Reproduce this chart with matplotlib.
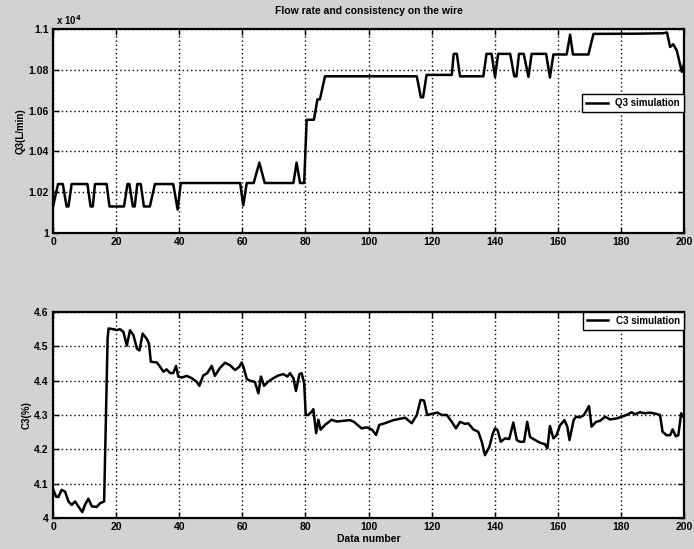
import numpy as np
import matplotlib
matplotlib.use('Agg')
import matplotlib.pyplot as plt

# Q3 flow rate (x 10^4 L/min), vertices
q3_x = [0, 1.6, 3.1, 4.3, 4.9, 5.9, 10.9, 11.9, 12.6, 13.3, 17.0, 17.9, 22.5, 23.6,
        24.2, 25.3, 25.9, 26.7, 27.8, 28.8, 30.7, 32.3, 38.1, 39.5, 40.5, 59.3,
        60.3, 61.4, 63.6, 65.4, 67.1, 76.2, 77.2, 78.3, 79.6, 80.4, 82.7, 83.8,
        84.6, 86.2, 115.3, 116.6, 117.3, 118.4, 126.4, 127.0, 128.0, 129.0, 136.4,
        137.4, 139.0, 140.1, 141.1, 144.9, 146.2, 146.9, 147.7, 149.2, 150.7,
        151.7, 156.3, 157.5, 158.6, 162.8, 163.9, 164.8, 169.7, 171.3, 185.0,
        193.4, 194.6, 195.6, 196.6, 197.7, 199.3, 200]
q3_y = [1.013, 1.024, 1.024, 1.013, 1.013, 1.024, 1.024, 1.013, 1.013, 1.024, 1.024,
        1.013, 1.013, 1.024, 1.024, 1.013, 1.013, 1.024, 1.024, 1.013, 1.013, 1.024,
        1.024, 1.0115, 1.0245, 1.0245, 1.0135, 1.0245, 1.0245, 1.0345, 1.0245,
        1.0245, 1.0345, 1.0245, 1.0245, 1.0555, 1.0555, 1.0655, 1.0655, 1.0768,
        1.0768, 1.0665, 1.0665, 1.0775, 1.0775, 1.0878, 1.0878, 1.0768, 1.0768,
        1.0878, 1.0878, 1.0765, 1.0878, 1.0878, 1.0768, 1.0768, 1.0878, 1.0878,
        1.0765, 1.0878, 1.0878, 1.0762, 1.0875, 1.0875, 1.0972, 1.0875, 1.0875,
        1.0976, 1.0977, 1.0979, 1.0983, 1.0912, 1.0925, 1.0895, 1.0790, 1.0830]

# C3 consistency (%)
c3_x = [0.1, 1.0, 1.7, 2.7, 3.8, 4.9, 5.9, 7.0, 8.0, 9.3, 10.1, 11.2, 12.3, 13.8,
        14.9, 16.2, 16.8, 17.3, 17.6, 19.1, 20.2, 21.2, 22.3, 23.4, 24.4, 25.5,
        26.6, 27.4, 28.4, 29.7, 30.4, 31.0, 32.9, 33.9, 35.0, 36.0, 37.1, 38.1,
        39.0, 39.7, 40.8, 42.4, 44.0, 45.5, 46.4, 47.6, 48.9, 50.3, 51.3, 52.9,
        54.5, 56.1, 57.7, 59.0, 59.8, 60.5, 61.4, 62.4, 64.0, 65.1, 65.9, 66.9,
        68.2, 69.8, 71.4, 73.0, 74.3, 75.1, 76.2, 77.0, 78.1, 78.8, 79.6, 80.1,
        80.9, 82.0, 82.5, 83.4, 84.1, 84.8, 86.2, 88.3, 89.9, 92.0, 94.1, 95.4,
        97.8, 99.4, 101.0, 102.4, 103.4, 105.2, 107.9, 110.5, 111.6, 113.7, 115.3,
        116.5, 117.6, 118.6, 120.0, 121.8, 123.2, 124.8, 126.4, 127.7, 129.0,
        130.6, 131.6, 133.2, 134.8, 135.9, 136.9, 138.3, 139.4, 140.1, 140.9,
        141.9, 143.3, 144.6, 145.9, 147.0, 148.0, 149.3, 150.3, 151.2, 152.8,
        154.4, 155.9, 156.7, 157.5, 158.6, 159.6, 160.7, 162.1, 163.0, 163.7,
        165.0, 165.8, 167.0, 168.3, 169.9, 170.7, 172.1, 173.4, 175.0, 176.5,
        178.7, 180.2, 181.8, 183.4, 184.5, 186.0, 187.6, 189.2, 191.3, 192.4,
        193.2, 194.5, 195.6, 196.4, 197.4, 198.2, 199.1, 199.8]
c3_y = [4.082, 4.062, 4.061, 4.082, 4.077, 4.048, 4.038, 4.048, 4.034, 4.017, 4.038,
        4.056, 4.034, 4.032, 4.043, 4.048, 4.300, 4.523, 4.552, 4.550, 4.547, 4.550,
        4.542, 4.502, 4.547, 4.532, 4.493, 4.488, 4.537, 4.522, 4.508, 4.455, 4.453,
        4.441, 4.426, 4.433, 4.422, 4.422, 4.443, 4.412, 4.409, 4.414, 4.407, 4.397,
        4.385, 4.415, 4.422, 4.443, 4.414, 4.437, 4.452, 4.445, 4.431, 4.440, 4.453,
        4.436, 4.405, 4.400, 4.396, 4.363, 4.412, 4.385, 4.397, 4.407, 4.415, 4.419,
        4.412, 4.422, 4.407, 4.370, 4.419, 4.422, 4.393, 4.300, 4.300, 4.310, 4.317,
        4.247, 4.286, 4.257, 4.271, 4.286, 4.281, 4.283, 4.285, 4.280, 4.261, 4.264,
        4.258, 4.242, 4.271, 4.276, 4.285, 4.290, 4.292, 4.276, 4.300, 4.344, 4.342,
        4.300, 4.303, 4.307, 4.300, 4.300, 4.280, 4.261, 4.280, 4.274, 4.276, 4.258,
        4.251, 4.222, 4.183, 4.207, 4.246, 4.261, 4.256, 4.222, 4.232, 4.230, 4.278,
        4.227, 4.222, 4.222, 4.280, 4.236, 4.227, 4.219, 4.215, 4.203, 4.268, 4.232,
        4.241, 4.270, 4.285, 4.266, 4.227, 4.285, 4.295, 4.293, 4.300, 4.326, 4.266,
        4.280, 4.283, 4.295, 4.287, 4.290, 4.295, 4.300, 4.308, 4.302, 4.308, 4.305,
        4.307, 4.303, 4.300, 4.251, 4.241, 4.241, 4.258, 4.238, 4.241, 4.305, 4.295]

x_ticks = list(range(0, 201, 20))
q3_ticks = [1.0, 1.02, 1.04, 1.06, 1.08, 1.1]
q3_labels = ['1', '1.02', '1.04', '1.06', '1.08', '1.1']
c3_ticks = [4.0, 4.1, 4.2, 4.3, 4.4, 4.5, 4.6]
c3_labels = ['4', '4.1', '4.2', '4.3', '4.4', '4.5', '4.6']

plt.rcParams['font.family'] = ['Liberation Sans', 'DejaVu Sans']
plt.rcParams['font.weight'] = 'bold'
plt.rcParams['font.size'] = 7

fig = plt.figure(figsize=(6.94, 5.49), dpi=100, facecolor='#d2d2d2')
ax1 = fig.add_axes([0.0764, 0.5756, 0.9092, 0.3716])
ax2 = fig.add_axes([0.0764, 0.0565, 0.9092, 0.3752])


def style(ax, yticks, ylabels, ylim):
    ax.set_facecolor('white')
    ax.set_xlim(0, 200)
    ax.set_ylim(*ylim)
    ax.set_xticks(x_ticks)
    ax.set_xticklabels([str(t) for t in x_ticks], fontweight='bold')
    ax.set_yticks(yticks)
    ax.set_yticklabels(ylabels, fontweight='bold')
    ax.grid(True, linestyle=(0, (1, 2)), color='black', linewidth=1.0)
    ax.tick_params(direction='in', top=True, right=True, length=4, width=1,
                   pad=3, labelsize=7.5)
    for s in ax.spines.values():
        s.set_linewidth(1.6)


ax1.plot(q3_x, q3_y, color='black', linewidth=1.8, label='Q3 simulation')
style(ax1, q3_ticks, q3_labels, (1.0, 1.1))
ax1.set_ylabel('Q3(L/min)', fontweight='bold', labelpad=2)
ax1.set_title('Flow rate and consistency on the wire', fontweight='bold',
              fontsize=7.5, pad=11)
ax1.text(0.005, 1.008, r'x 10$^4$', transform=ax1.transAxes, ha='left',
         va='bottom', fontweight='bold', fontsize=7)
ax1.legend(loc='upper right', bbox_to_anchor=(1.0, 0.68), borderaxespad=0,
           fancybox=False, edgecolor='black', framealpha=1, handlelength=2.2,
           prop={'weight': 'bold', 'size': 7})

ax2.plot(c3_x, c3_y, color='black', linewidth=1.8, label='C3 simulation')
style(ax2, c3_ticks, c3_labels, (4.0, 4.6))
ax2.set_ylabel('C3(%)', fontweight='bold', labelpad=2)
ax2.set_xlabel('Data number', fontweight='bold', fontsize=7.5, labelpad=1)
ax2.legend(loc='upper right', borderaxespad=0, fancybox=False,
           edgecolor='black', framealpha=1, handlelength=2.2,
           prop={'weight': 'bold', 'size': 7})

fig.savefig('out.png', dpi=100, facecolor=fig.get_facecolor())
